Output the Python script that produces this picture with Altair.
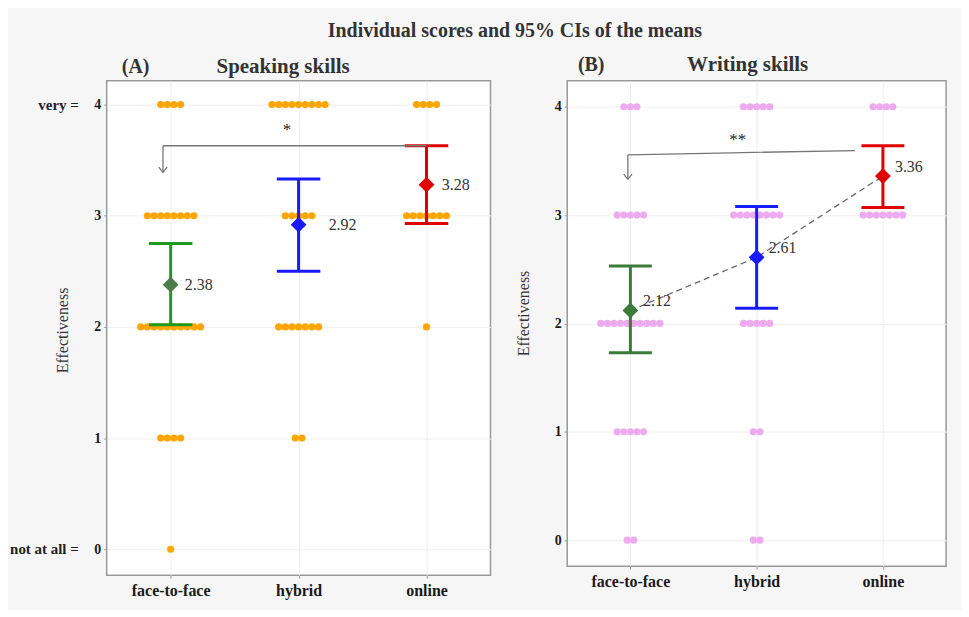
import altair as alt
import pandas as pd

# ---------------- data ----------------
categories = ["face-to-face", "hybrid", "online"]
score_levels = [4, 3, 2, 1, 0]

# number of individual dots at each score level (4,3,2,1,0)
speak_counts = {"face-to-face": [4, 8, 10, 4, 1],
                "hybrid": [9, 5, 7, 2, 0],
                "online": [4, 7, 1, 0, 0]}
write_counts = {"face-to-face": [3, 5, 10, 5, 2],
                "hybrid": [5, 8, 5, 2, 2],
                "online": [4, 7, 0, 0, 0]}

speak_means = [2.38, 2.92, 3.28]
speak_lo = [2.02, 2.50, 2.93]
speak_hi = [2.75, 3.33, 3.63]
speak_label_dx = [0.11, 0.235, 0.12]

write_means = [2.12, 2.61, 3.36]
write_lo = [1.73, 2.14, 3.07]
write_hi = [2.53, 3.08, 3.64]
write_label_dx = [0.10, 0.095, 0.095]

# significance brackets (x in category units, y in score units)
speak_bracket_x = [0.94, 3.0]
speak_bracket_y = [3.63, 3.63]
speak_arrow_y = [3.63, 3.39]
speak_star = ["*"]
speak_star_xy = [1.91, 3.77]

write_bracket_x = [0.98, 1.8, 2.78]
write_bracket_y = [3.555, 3.575, 3.595]
write_arrow_y = [3.555, 3.33]
write_star = ["**"]
write_star_xy = [1.85, 3.69]

anchor_texts = ["very =", "not at all ="]
anchor_values = [4, 0]

speak_err_colors = ["#1e9a1e", "#1a1aff", "#e00000"]
speak_dia_colors = ["#4a7d4a", "#1a1aff", "#e00000"]
write_err_colors = ["#3a7a3a", "#1a1aff", "#e00000"]
write_dia_colors = ["#3a7a3a", "#1a1aff", "#e00000"]

FONT = "Liberation Serif"
DOT_STEP = 0.052
CAP = 0.17
label_expr = "datum.value == 1 ? '%s' : datum.value == 2 ? '%s' : datum.value == 3 ? '%s' : ''" % tuple(categories)


def dots_frame(counts):
    rows = []
    for i, cat in enumerate(categories):
        for lvl, n in zip(score_levels, counts[cat]):
            for k in range(n):
                rows.append({"cat": cat, "score": lvl,
                             "x": i + 1 + (k - (n - 1) / 2) * DOT_STEP})
    return pd.DataFrame(rows)


def panel(counts, means, lo, hi, label_dx, err_colors, dia_colors, dot_color,
          bx, by, ay, star, star_xy, tag, name, height, ydomain, label_dy,
          title_y, anchors, tag_x, name_x, text_y, connect, pfx):
    xs = alt.Scale(domain=[0.5, 3.5], nice=False, zero=False)
    ys = alt.Scale(domain=ydomain, nice=False, zero=False)
    xaxis = alt.Axis(values=[1, 2, 3], labelExpr=label_expr, title=None,
                     labelFont=FONT, labelFontSize=16, labelFontWeight="bold",
                     labelColor="#1a1a1a", tickColor="#999", tickSize=3,
                     labelPadding=4, domain=False, gridColor="#efefef")
    yaxis = alt.Axis(values=[0, 1, 2, 3, 4], title="Effectiveness", format="d",
                     labelFont=FONT, labelFontSize=14, labelFontWeight="bold",
                     labelColor="#1a1a1a", tickColor="#999", tickSize=3,
                     labelPadding=3, domain=False, gridColor="#efefef",
                     titleFont=FONT, titleFontSize=16, titleFontWeight="normal",
                     titleColor="#333", titleX=-36, titleY=title_y)

    dots = alt.Chart(dots_frame(counts)).mark_circle(
        size=52, opacity=1, color=dot_color).encode(
        x=alt.X("x:Q", scale=xs, axis=xaxis),
        y=alt.Y("score:Q", scale=ys, axis=yaxis))

    sdf = pd.DataFrame({"cat": categories, "x": [1, 2, 3], "mean": means,
                        "lo": lo, "hi": hi, "ldx": label_dx,
                        "label": ["%.2f" % m for m in means]})
    ef, df_ = pfx + "_err", pfx + "_dia"
    base = alt.Chart(sdf).transform_calculate(
        xl="datum.x - %f" % CAP, xr="datum.x + %f" % CAP,
        xt="datum.x + datum.ldx", **{ef: "datum.cat", df_: "datum.cat"})
    ecol = alt.Color(ef + ":N", scale=alt.Scale(domain=categories, range=err_colors), legend=None)
    dcol = alt.Color(df_ + ":N", scale=alt.Scale(domain=categories, range=dia_colors), legend=None)

    vline = base.mark_rule(strokeWidth=3).encode(
        x=alt.X("x:Q", scale=xs), y=alt.Y("lo:Q", scale=ys), y2="hi:Q", color=ecol)
    cap_hi = base.mark_rule(strokeWidth=3).encode(
        x=alt.X("xl:Q", scale=xs), x2="xr:Q", y=alt.Y("hi:Q", scale=ys), color=ecol)
    cap_lo = base.mark_rule(strokeWidth=3).encode(
        x=alt.X("xl:Q", scale=xs), x2="xr:Q", y=alt.Y("lo:Q", scale=ys), color=ecol)
    dia = base.mark_point(shape="diamond", filled=True, size=250, opacity=1).encode(
        x=alt.X("x:Q", scale=xs), y=alt.Y("mean:Q", scale=ys), color=dcol)
    lab = base.mark_text(align="left", baseline="middle", font=FONT, fontSize=16,
                         color="#333", dy=label_dy).encode(
        x=alt.X("xt:Q", scale=xs), y=alt.Y("mean:Q", scale=ys), text="label:N")

    br = alt.Chart(pd.DataFrame({"x": bx, "y": by})).mark_line(
        color="#777", strokeWidth=1.3).encode(
        x=alt.X("x:Q", scale=xs), y=alt.Y("y:Q", scale=ys))
    adf = pd.DataFrame({"x": [bx[0]], "y0": [ay[0]], "y1": [ay[1]]})
    arrow = alt.Chart(adf).mark_rule(color="#777", strokeWidth=1.3).encode(
        x=alt.X("x:Q", scale=xs), y=alt.Y("y0:Q", scale=ys), y2="y1:Q")
    head = alt.Chart(adf).mark_point(
        shape="M-0.8,-1L0,0L0.8,-1", filled=False, size=110, color="#777",
        strokeWidth=1.3, opacity=1).encode(
        x=alt.X("x:Q", scale=xs), y=alt.Y("y1:Q", scale=ys))
    st = alt.Chart(pd.DataFrame({"x": [star_xy[0]], "y": [star_xy[1]], "t": star})).mark_text(
        font=FONT, fontSize=17, color="#222", baseline="middle").encode(
        x=alt.X("x:Q", scale=xs), y=alt.Y("y:Q", scale=ys), text="t:N")

    tdf = pd.DataFrame({"t": [tag], "n": [name]})
    tag_t = alt.Chart(tdf).mark_text(font=FONT, fontSize=20, fontWeight="bold",
                                     color="#333", baseline="middle").encode(
        x=alt.value(tag_x), y=alt.value(text_y), text="t:N")
    name_t = alt.Chart(tdf).mark_text(font=FONT, fontSize=21, fontWeight="bold",
                                      color="#333", baseline="middle").encode(
        x=alt.value(name_x), y=alt.value(text_y), text="n:N")

    layers = [dots]
    if connect:
        conn = base.mark_line(color="#666", strokeWidth=1.3, strokeDash=[6, 4]).encode(
            x=alt.X("x:Q", scale=xs), y=alt.Y("mean:Q", scale=ys))
        layers.append(conn)
    layers += [vline, cap_hi, cap_lo, dia, lab, br, arrow, head, st, tag_t, name_t]
    if anchors:
        an = alt.Chart(pd.DataFrame({"t": anchor_texts, "y": anchor_values})).mark_text(
            font=FONT, fontSize=15, fontWeight="bold", color="#222",
            align="right", baseline="middle").encode(
            x=alt.value(-28), y=alt.Y("y:Q", scale=ys), text="t:N")
        layers.append(an)
    return alt.layer(*layers).resolve_scale(color="independent").properties(
        width=385 if anchors else 380, height=height)


left = panel(speak_counts, speak_means, speak_lo, speak_hi, speak_label_dx,
             speak_err_colors, speak_dia_colors, "#ffa500",
             speak_bracket_x, speak_bracket_y, speak_arrow_y, speak_star, speak_star_xy,
             "(A)", "Speaking skills", 496, [-0.233, 4.215], 0, 250, True, 29, 177, -14, False, "s")
right = panel(write_counts, write_means, write_lo, write_hi, write_label_dx,
              write_err_colors, write_dia_colors, "#eeaaee",
              write_bracket_x, write_bracket_y, write_arrow_y, write_star, write_star_xy,
              "(B)", "Writing skills", 487, [-0.24, 4.24], -9, 233, False, 24, 181, -16, True, "w")

chart = alt.hconcat(left, right, spacing=23).resolve_scale(color="independent").properties(
    title=alt.TitleParams("Individual scores and 95% CIs of the means", font=FONT,
                          fontSize=20, fontWeight="bold", color="#333",
                          anchor="middle", dx=37, offset=12),
    background="#f6f6f6",
    padding={"left": 1, "top": 12, "right": 14, "bottom": 10},
).configure_view(stroke="#999", strokeWidth=1.5, fill="white")

chart.save("out.html", embed_options={"renderer": "svg", "actions": False})
